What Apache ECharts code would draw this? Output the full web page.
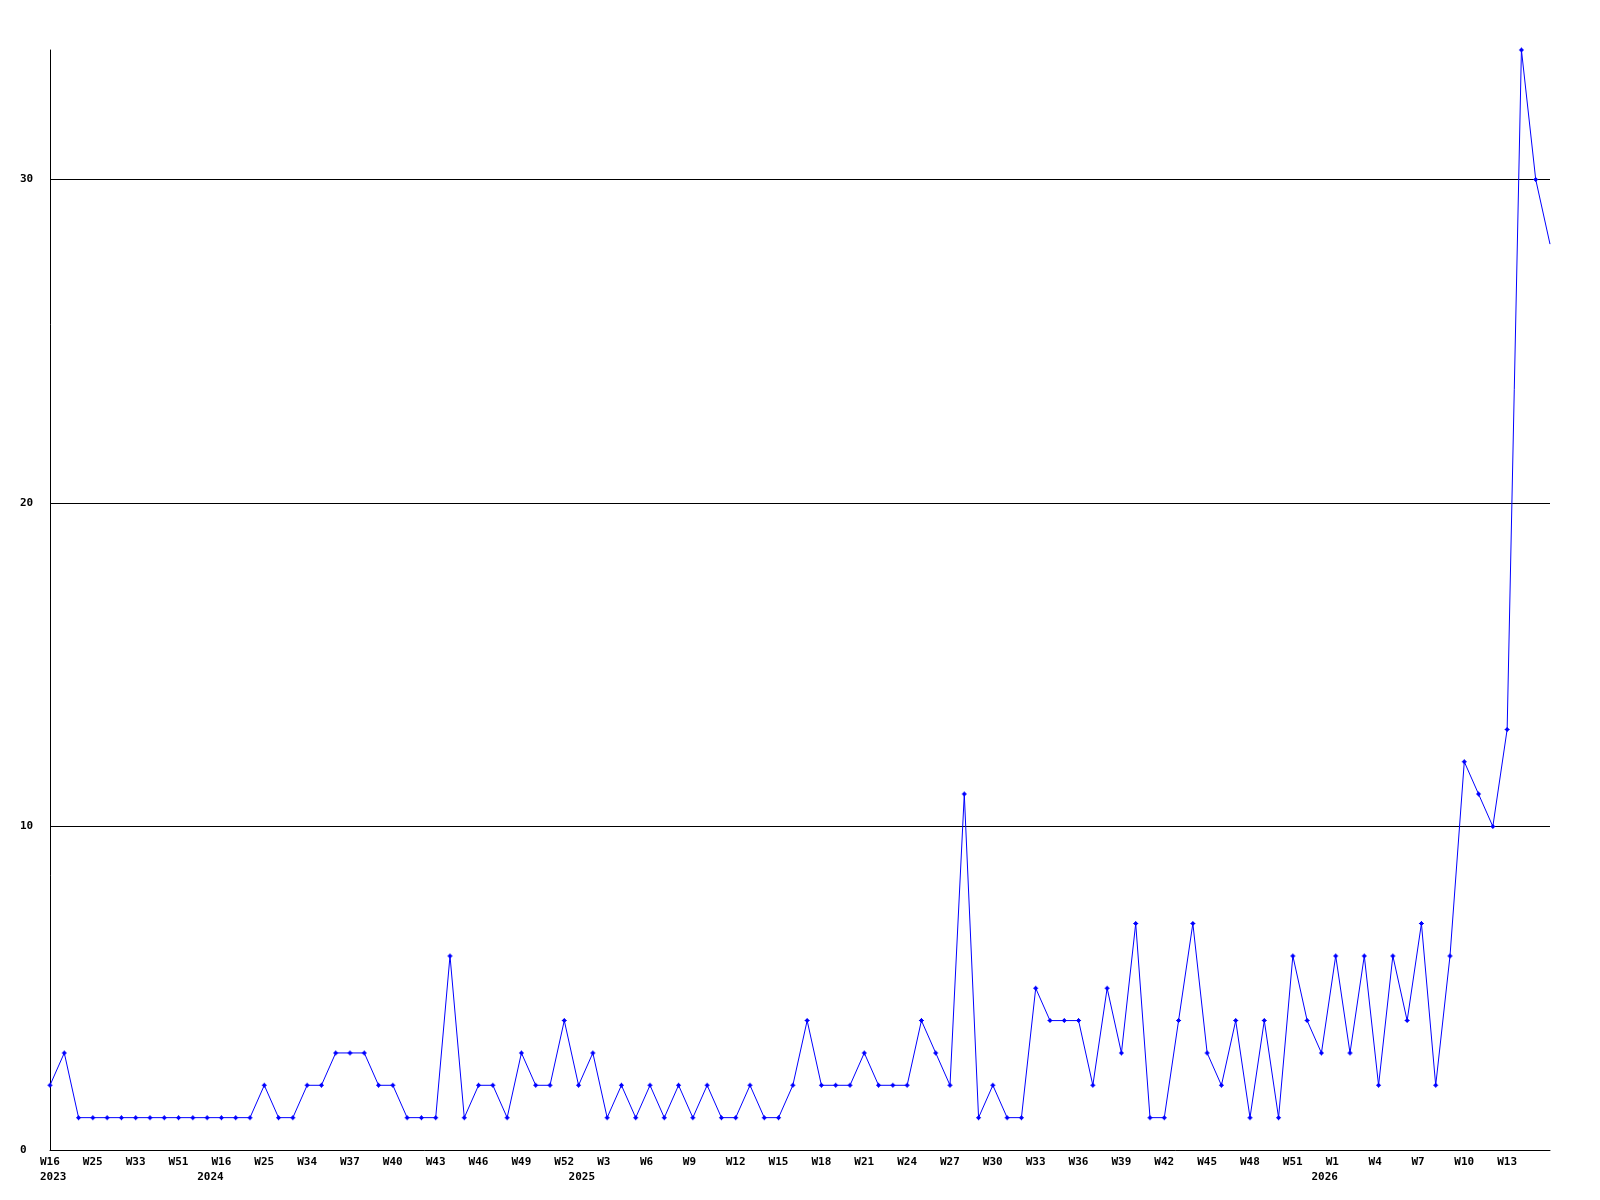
<!DOCTYPE html>
<html>
<head>
<meta charset="utf-8">
<script src="https://cdn.jsdelivr.net/npm/echarts@6/dist/echarts.min.js"></script>
<style>
html,body{margin:0;padding:0;background:#fff;}
#chart{width:1600px;height:1200px;}
</style>
</head>
<body>
<div id="chart"></div>
<script>
// Week categories (one per data point); every 3rd one is labelled on the axis
const weeks = [
  'W16','W19','W22','W25','W28','W30','W33','W40','W46','W51',
  'W52','W3','W16','W19','W22','W25','W28','W31','W34','W35',
  'W36','W37','W38','W39','W40','W41','W42','W43','W44','W45',
  'W46','W47','W48','W49','W50','W51','W52','W1','W2','W3',
  'W4','W5','W6','W7','W8','W9','W10','W11','W12','W13',
  'W14','W15','W16','W17','W18','W19','W20','W21','W22','W23',
  'W24','W25','W26','W27','W28','W29','W30','W31','W32','W33',
  'W34','W35','W36','W37','W38','W39','W40','W41','W42','W43',
  'W44','W45','W46','W47','W48','W49','W50','W51','W52','W0',
  'W1','W2','W3','W4','W5','W6','W7','W8','W9','W10',
  'W11','W12','W13','W14','W15','W16'
];
// Year marks: category index -> year text
const yearMarks = {0:'2023', 11:'2024', 37:'2025', 89:'2026'};
// Values per week
const values = [
  2,3,1,1,1,1,1,1,1,1,
  1,1,1,1,1,2,1,1,2,2,
  3,3,3,2,2,1,1,1,6,1,
  2,2,1,3,2,2,4,2,3,1,
  2,1,2,1,2,1,2,1,1,2,
  1,1,2,4,2,2,2,3,2,2,
  2,4,3,2,11,1,2,1,1,5,
  4,4,4,2,5,3,7,1,1,4,
  7,3,2,4,1,4,1,6,4,3,
  6,3,6,2,6,4,7,2,6,12,
  11,10,13,34,30,28
];
const yTicks = [0, 10, 20, 30];

const font = {fontFamily:'DejaVu Sans Mono', fontWeight:'bold', fontSize:11, color:'#000'};
const lastIdx = values.length - 1;
const chart = echarts.init(document.getElementById('chart'), null, {renderer:'canvas'});
chart.setOption({
  animation:false,
  backgroundColor:'#fff',
  grid:{left:50, right:50, top:50, bottom:50, containLabel:false},
  xAxis:[{
    type:'category', data:weeks, boundaryGap:false,
    axisLine:{show:true, lineStyle:{color:'#000', width:1}},
    axisTick:{show:false},
    splitLine:{show:false},
    axisLabel:Object.assign({}, font, {
      interval:(i)=>i%3===0 && i<lastIdx, margin:7, align:'center',
      formatter:v=>'{w|'+v+'}',
      rich:{w:Object.assign({}, font, {width:20, align:'left'})}
    })
  },{
    type:'category', data:weeks, boundaryGap:false, position:'bottom', offset:0,
    axisLine:{show:false}, axisTick:{show:false}, splitLine:{show:false},
    axisLabel:Object.assign({}, font, {
      interval:(i)=>yearMarks[i]!==undefined, margin:22, align:'center',
      formatter:(v,i)=>'{w|'+(yearMarks[i]||'')+'}',
      rich:{w:Object.assign({}, font, {width:20, align:'left'})}
    })
  }],
  yAxis:{
    type:'value', min:0, max:34, interval:10,
    axisLine:{show:true, lineStyle:{color:'#000', width:1}},
    axisTick:{show:false},
    splitLine:{show:true, showMinLine:false, showMaxLine:false, lineStyle:{color:'#000', width:1}},
    axisLabel:Object.assign({}, font, {
      margin:30, align:'left', showMaxLabel:false,
      formatter:v=>yTicks.includes(v)?String(v):''
    })
  },
  series:[{
    type:'line', xAxisIndex:0,
    data:values.map((v,i)=> i===lastIdx ? {value:v, symbol:'none'} : v),
    symbol:'path://M2,0H3V1H4V2H5V3H4V4H3V5H2V4H1V3H0V2H1V1H2Z', symbolSize:5, showAllSymbol:true,
    lineStyle:{color:'#0000ff', width:1},
    itemStyle:{color:'#0000ff'},
    clip:true
  }]
});
</script>
</body>
</html>
